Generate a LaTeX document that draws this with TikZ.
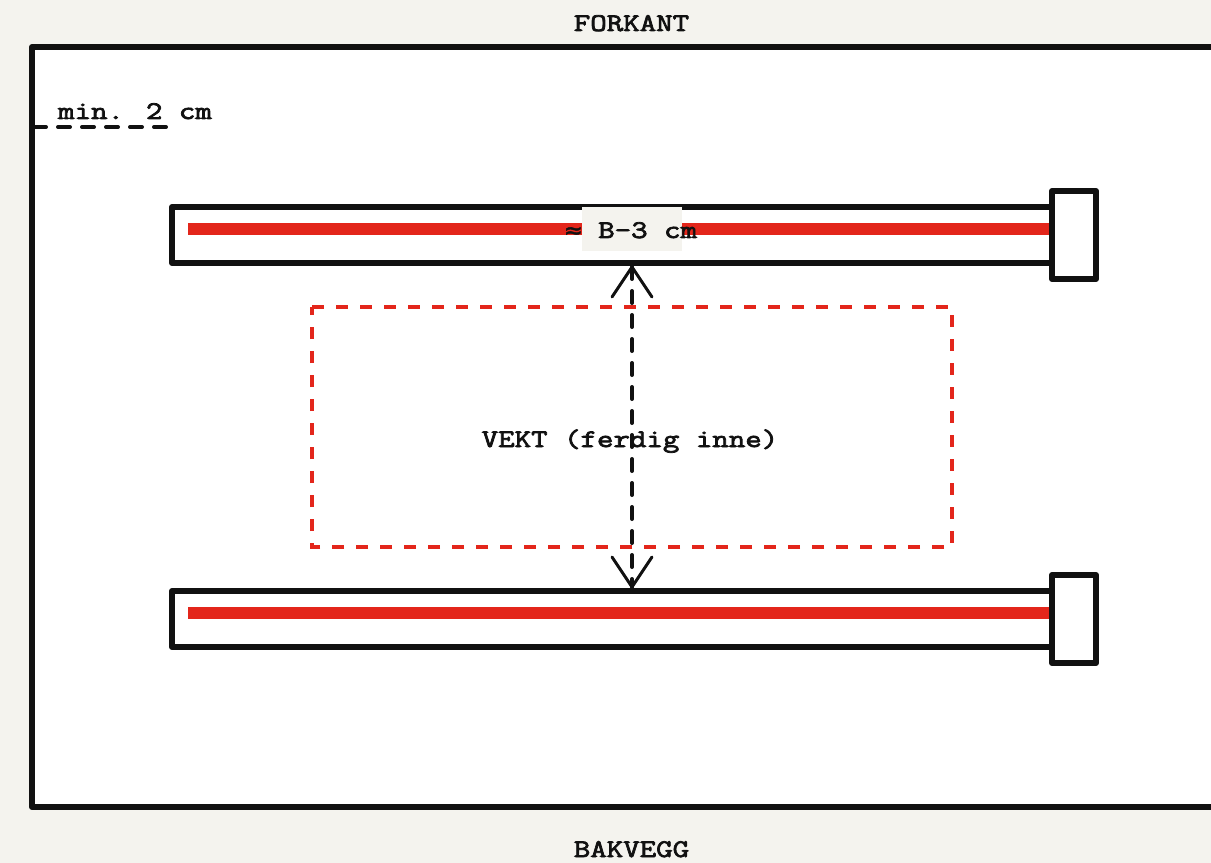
\documentclass[tikz,border=0pt]{standalone}
\usepackage{fontspec}
\newfontfamily\labelfont[FakeStretch=1.263,FakeBold=3]{Latin Modern Mono}
\newfontfamily\symfont[FakeStretch=1.2,FakeBold=2]{DejaVu Sans Mono}
\definecolor{paper}{HTML}{F4F3EE}
\definecolor{ink}{HTML}{111111}
\definecolor{signal}{HTML}{E3261B}
\tikzset{
  px/.style={line width=#1*0.75pt},
  frame/.style={draw=ink,px=6,line join=round,fill=white,rectangle,inner sep=0pt,outer sep=0pt},
  redbar/.style={signal,px=12},
  reddash/.style={draw=signal,px=4,dash pattern=on 9pt off 9pt},
  blackdash/.style={draw=ink,px=4,line cap=round,dash pattern=on 9pt off 9pt},
  head/.style={draw=ink,px=3,line cap=round,line join=miter},
  lbl/.style={text=ink,anchor=base,inner sep=0pt,font=\fontsize{19}{23}\labelfont},
}
\begin{document}
\begin{tikzpicture}[x=0.75pt,y=-0.75pt]
\useasboundingbox (0,0) rectangle (1211,863);
\fill[paper] (0,0) rectangle (1211,863);
\begin{scope}
\clip (0,0) rectangle (1211,863);
\node[frame,minimum width=1300*0.75pt,minimum height=760*0.75pt,anchor=north west] (outer) at (32,47) {};
\end{scope}
\node[frame,minimum width=880*0.75pt,minimum height=56*0.75pt,anchor=north west] (bartop) at (172,207) {};
\node[frame,minimum width=880*0.75pt,minimum height=56*0.75pt,anchor=north west] (barbot) at (172,591) {};
\draw[redbar] (188,229) -- (1052,229);
\draw[redbar] (188,613) -- (1052,613);
\node[frame,minimum width=44*0.75pt,minimum height=88*0.75pt,anchor=north west] (captop) at (1052,191) {};
\node[frame,minimum width=44*0.75pt,minimum height=88*0.75pt,anchor=north west] (capbot) at (1052,575) {};
\draw[reddash] (312,307) -- (952,307) -- (952,547) -- (312,547) -- cycle;
\coordinate (tipa) at (632,267);
\coordinate (tipb) at (632,587);
\coordinate (hal) at (612,297);
\coordinate (har) at (652,297);
\coordinate (hbl) at (612,557);
\coordinate (hbr) at (652,557);
\draw[blackdash] (tipa) -- (tipb);
\draw[head] (hal) -- (tipa) -- (har);
\draw[head] (hbl) -- (tipb) -- (hbr);
\coordinate (ma) at (34,127);
\coordinate (mb) at (166,127);
\draw[blackdash] (ma) -- (mb);
\fill[paper] (582,207) rectangle (682,251);
\node[lbl] (fk) at (631.5,31) {FORKANT};
\node[lbl] (bv) at (631.5,857) {BAKVEGG};
\node[lbl] (mn) at (135,119) {min. 2 cm};
\node[lbl] (vk) at (630,447) {VEKT (ferdig inne)};
\node[lbl] (bm) at (631,238) {\makebox[12.6pt]{\symfont\fontsize{17}{20}\selectfont ≈} B-3 cm};
\end{tikzpicture}
\end{document}
